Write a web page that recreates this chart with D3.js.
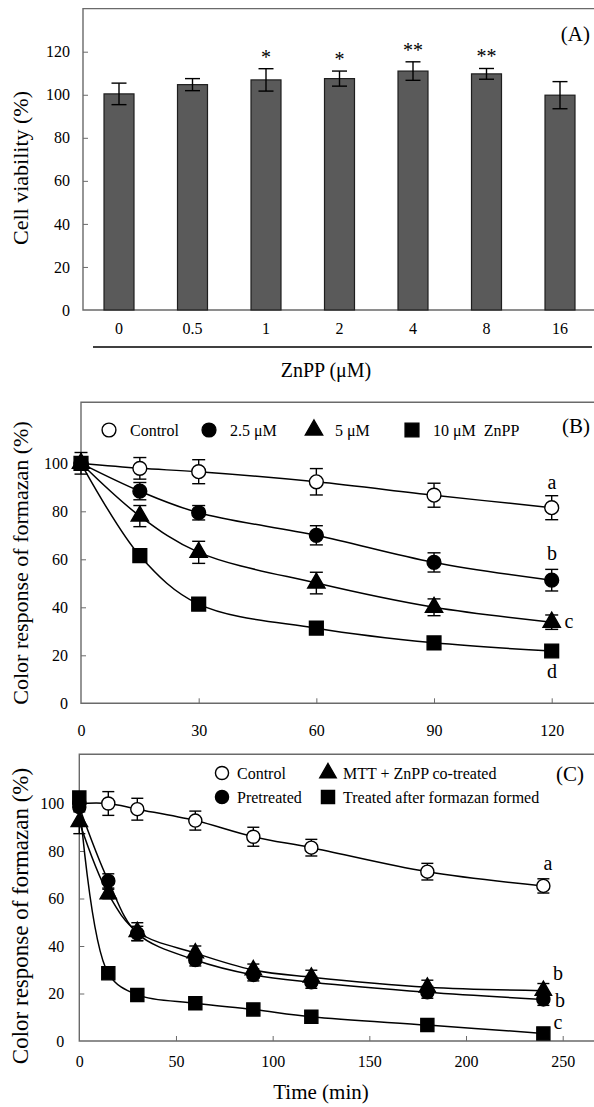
<!DOCTYPE html>
<html><head><meta charset="utf-8">
<script src="https://cdn.jsdelivr.net/npm/d3@7"></script>
<style>
body{margin:0;background:#fff}
svg{display:block}
text{font-family:"Liberation Serif","Times New Roman",serif;fill:#000}
</style>
</head><body>
<svg id="chart" width="594" height="1107"></svg>
<script>
// ---------- DATA ----------
// Panel A
const doseLabels = ["0", "0.5", "1", "2", "4", "8", "16"];
const viability = [100.4, 104.7, 106.9, 107.5, 111.0, 109.7, 99.8];
const viabilityErr = [5.0, 2.8, 5.2, 3.5, 4.3, 2.5, 6.3];
const viabilitySig = ["", "", "*", "*", "**", "**", ""];
const ticksA = [0, 20, 40, 60, 80, 100, 120];

// Panel B
const timeB = [0, 15, 30, 60, 90, 120];
const bControl = [100, 97.9, 96.5, 92.3, 86.7, 81.5];
const bControlErr = [0, 4.5, 5.0, 5.5, 5.0, 5.0];
const b25 = [100, 88.4, 79.4, 70.0, 58.7, 51.3];
const b25Err = [0, 3.6, 3.0, 4.0, 4.0, 4.5];
const b5 = [100, 78.0, 62.9, 50.1, 40.0, 33.8];
const b5Err = [0, 4.4, 4.6, 4.5, 3.5, 3.0];
const b10 = [100, 61.5, 41.3, 31.3, 25.2, 21.8];
const b10Err = [4.5, 1.5, 1.5, 1.5, 1.5, 1.5];
const letterB = ["a", "b", "c", "d"];
const legendB = ["Control", "2.5 \u03bcM", "5 \u03bcM", "10 \u03bcM  ZnPP"];
const ticksBx = [0, 30, 60, 90, 120];
const ticksBy = [0, 20, 40, 60, 80, 100];

// Panel C
const timeC = [0, 15, 30, 60, 90, 120, 180, 240];
const cControl = [100, 100, 97.6, 92.8, 86.0, 81.4, 71.3, 65.3];
const cControlErr = [0, 5.0, 4.6, 4.0, 4.0, 3.5, 3.5, 3.0];
const cPre = [98.5, 67.4, 45.3, 34.1, 27.8, 24.7, 20.5, 17.5];
const cPreErr = [2.0, 3.0, 3.0, 2.5, 2.5, 2.5, 2.5, 2.5];
const cCo = [92.3, 61.9, 46.0, 37.0, 29.9, 26.8, 22.6, 21.2];
const cCoErr = [5.0, 2.0, 3.8, 3.0, 2.5, 3.0, 3.0, 3.0];
const cAfter = [102.5, 28.5, 19.4, 15.9, 13.3, 10.2, 6.7, 3.2];
const cAfterErr = [2.0, 1.5, 1.5, 1.5, 1.5, 1.5, 1.5, 1.5];
const letterC = ["a", "b", "b", "c"];
const legendC = ["Control", "Pretreated", "MTT + ZnPP co-treated", "Treated after formazan formed"];
const ticksCx = [0, 50, 100, 150, 200, 250];
const ticksCy = [0, 20, 40, 60, 80, 100];

// ---------- DRAW ----------
const svg = d3.select("#chart");
const FRAME = "#6a6a6a";
const FONT_TICK = 16;

function frame(x0, y0, x1, y1) {
  svg.append("path")
    .attr("d", `M${x1},${y0}H${x0}V${y1}H${x1}`)
    .attr("fill", "none").attr("stroke", FRAME).attr("stroke-width", 1.4);
}
function styleAxis(g) {
  g.select(".domain").remove();
  g.selectAll("text").attr("font-size", FONT_TICK).attr("font-family", '"Liberation Serif","Times New Roman",serif').attr("fill", "#000");
  g.selectAll("line").attr("stroke", FRAME);
}
function yTitle(text, cx, cy, size) {
  svg.append("text").attr("transform", `translate(${cx},${cy}) rotate(-90)`)
    .attr("text-anchor", "middle").attr("dominant-baseline", "central")
    .attr("font-size", size).text(text);
}
function errBar(g, x, y, v, e, cap) {
  if (!e) return;
  const ya = y(v + e), yb = y(v - e);
  g.append("line").attr("x1", x).attr("x2", x).attr("y1", ya).attr("y2", yb);
  g.append("line").attr("x1", x - cap / 2).attr("x2", x + cap / 2).attr("y1", ya).attr("y2", ya);
  g.append("line").attr("x1", x - cap / 2).attr("x2", x + cap / 2).attr("y1", yb).attr("y2", yb);
}
const symTypes = { circle: d3.symbolCircle, triangle: d3.symbolTriangle, square: d3.symbolSquare };
function marker(g, type, fill, x, y, scale) {
  const sizes = { circle: 150, triangle: 130, square: 190 };
  g.append("path")
    .attr("d", d3.symbol().type(symTypes[type]).size(sizes[type] * scale)())
    .attr("transform", `translate(${x},${y})`)
    .attr("fill", fill).attr("stroke", "#000").attr("stroke-width", 1.4);
}

// ===== Panel A =====
const yA = d3.scaleLinear().domain([0, 140]).range([310, 8.65]);
const xA = d3.scaleBand().domain(doseLabels).range([82.25, 596.75]).paddingInner(0.592).paddingOuter(0.296);
frame(83, 8.65, 600, 310);

svg.append("g").selectAll("rect").data(doseLabels).join("rect")
  .attr("x", d => xA(d)).attr("width", xA.bandwidth())
  .attr("y", (d, i) => yA(viability[i]))
  .attr("height", (d, i) => yA(0) - yA(viability[i]))
  .attr("fill", "#5a5a5a").attr("stroke", "#1e1e1e").attr("stroke-width", 1.2);

const gErrA = svg.append("g").attr("stroke", "#000").attr("stroke-width", 1.4);
doseLabels.forEach((d, i) => {
  const cx = xA(d) + xA.bandwidth() / 2;
  errBar(gErrA, cx, yA, viability[i], viabilityErr[i], 15);
  if (viabilitySig[i]) {
    svg.append("text").attr("x", cx).attr("y", yA(viability[i] + viabilityErr[i]) - 5)
      .attr("text-anchor", "middle").attr("font-size", 20).text(viabilitySig[i]);
  }
});
svg.append("g").attr("transform", "translate(83,0)")
  .call(d3.axisLeft(yA).tickValues(ticksA).tickSize(-5).tickPadding(13)).call(styleAxis)
  .call(g => g.selectAll(".tick").filter(d => d === 0).select("line").remove());
svg.append("g").attr("transform", "translate(0,310)")
  .call(d3.axisBottom(xA).tickSize(0).tickPadding(13)).call(styleAxis);
svg.append("line").attr("x1", 93).attr("x2", 592).attr("y1", 347).attr("y2", 347)
  .attr("stroke", "#000").attr("stroke-width", 1.4);
svg.append("text").attr("x", 326).attr("y", 377).attr("text-anchor", "middle").attr("font-size", 20).text("ZnPP (\u03bcM)");
yTitle("Cell viability (%)", 20, 168, 22);
svg.append("text").attr("x", 590).attr("y", 41).attr("text-anchor", "end").attr("font-size", 21).text("(A)");

// ===== generic line panel =====
function linePanel(o) {
  frame(o.left, o.top, 600, o.bottom);
  svg.append("g").attr("transform", `translate(${o.left},0)`)
    .call(d3.axisLeft(o.y).tickValues(o.yTicks).tickSize(-5).tickPadding(o.yPad)).call(styleAxis)
    .call(g => g.selectAll(".tick").filter(d => d === 0).select("line").remove());
  svg.append("g").attr("transform", `translate(0,${o.bottom})`)
    .call(d3.axisBottom(o.x).tickValues(o.xTicks).tickSize(-5).tickPadding(o.xPad)).call(styleAxis)
    .call(g => g.selectAll(".tick").filter(d => d === 0).select("line").remove());
  const line = d3.line().x(d => o.x(d[0])).y(d => o.y(d[1])).curve(d3.curveCatmullRom.alpha(0.5));
  const gL = svg.append("g").attr("fill", "none").attr("stroke", "#000").attr("stroke-width", 1.5);
  o.series.forEach(s => {
    gL.append("path").attr("d", line(o.t.map((t, i) => [t, s.v[i]])));
  });
  const gE = svg.append("g").attr("stroke", "#000").attr("stroke-width", 1.4);
  o.series.forEach(s => o.t.forEach((t, i) => errBar(gE, o.x(t), o.y, s.v[i], s.e[i], o.cap)));
  const gM = svg.append("g");
  o.series.forEach(s => o.t.forEach((t, i) => marker(gM, s.sym, s.fill, o.x(t), o.y(s.v[i]), o.ms)));
}

// ===== Panel B =====
const xB = d3.scaleLinear().domain([0, 120]).range([81, 551.7]);
const yB = d3.scaleLinear().domain([0, 100]).range([703.3, 463.3]);
linePanel({
  left: 81, top: 402.3, bottom: 703.3, x: xB, y: yB, xTicks: ticksBx, yTicks: ticksBy,
  yPad: 13, xPad: 21, t: timeB, cap: 13, ms: 1,
  series: [
    { v: bControl, e: bControlErr, sym: "circle", fill: "#fff" },
    { v: b25, e: b25Err, sym: "circle", fill: "#000" },
    { v: b5, e: b5Err, sym: "triangle", fill: "#000" },
    { v: b10, e: b10Err, sym: "square", fill: "#000" }
  ]
});
yTitle("Color response of formazan (%)", 20, 563, 22);
svg.append("text").attr("x", 590).attr("y", 433).attr("text-anchor", "end").attr("font-size", 21).text("(B)");
const legBx = [109, 209, 314, 412];
const legBsym = [["circle", "#fff"], ["circle", "#000"], ["triangle", "#000"], ["square", "#000"]];
legendB.forEach((lab, i) => {
  marker(svg, legBsym[i][0], legBsym[i][1], legBx[i], 430, 1);
  svg.append("text").attr("x", legBx[i] + 21).attr("y", 430).attr("dy", "0.35em")
    .attr("font-size", 16).style("white-space", "pre").text(lab);
});
const letBpos = [[552, 489], [552, 560], [569, 628], [552, 678]];
letterB.forEach((l, i) => svg.append("text").attr("x", letBpos[i][0]).attr("y", letBpos[i][1])
  .attr("text-anchor", "middle").attr("font-size", 20).text(l));

// ===== Panel C =====
const xC = d3.scaleLinear().domain([0, 250]).range([79.3, 562.7]);
const yC = d3.scaleLinear().domain([0, 100]).range([1041, 803.5]);
linePanel({
  left: 79.3, top: 754.3, bottom: 1041, x: xC, y: yC, xTicks: ticksCx, yTicks: ticksCy,
  yPad: 15, xPad: 15, t: timeC, cap: 12, ms: 0.9,
  series: [
    { v: cControl, e: cControlErr, sym: "circle", fill: "#fff" },
    { v: cPre, e: cPreErr, sym: "circle", fill: "#000" },
    { v: cCo, e: cCoErr, sym: "triangle", fill: "#000" },
    { v: cAfter, e: cAfterErr, sym: "square", fill: "#000" }
  ]
});
yTitle("Color response of formazan (%)", 20, 916, 23);
svg.append("text").attr("x", 321).attr("y", 1099).attr("text-anchor", "middle").attr("font-size", 21).text("Time (min)");
svg.append("text").attr("x", 584).attr("y", 781).attr("text-anchor", "end").attr("font-size", 21).text("(C)");
const legCpos = [[222, 773], [222, 797], [328, 773], [328, 797]];
const legCsym = [["circle", "#fff"], ["circle", "#000"], ["triangle", "#000"], ["square", "#000"]];
legendC.forEach((lab, i) => {
  marker(svg, legCsym[i][0], legCsym[i][1], legCpos[i][0], legCpos[i][1], 0.9);
  svg.append("text").attr("x", legCpos[i][0] + 15).attr("y", legCpos[i][1]).attr("dy", "0.35em")
    .attr("font-size", 16).text(lab);
});
const letCpos = [[548, 870], [558, 980], [560, 1007], [558, 1029]];
letterC.forEach((l, i) => svg.append("text").attr("x", letCpos[i][0]).attr("y", letCpos[i][1])
  .attr("text-anchor", "middle").attr("font-size", 20).text(l));
</script>
</body></html>
